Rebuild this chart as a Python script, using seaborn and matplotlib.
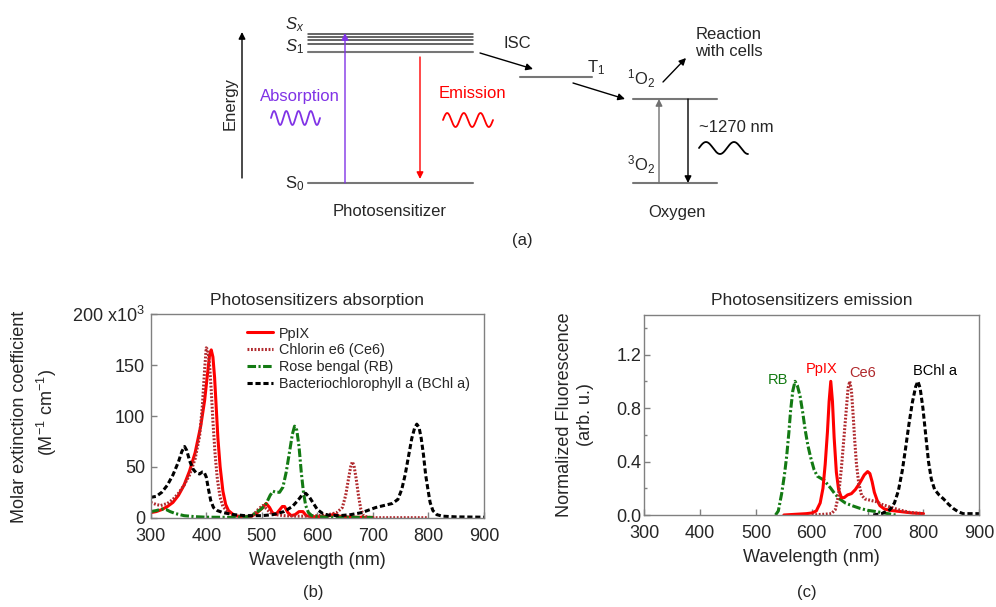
import numpy as np
import seaborn as sns
import matplotlib.pyplot as plt

# --- (b) absorption spectra: wavelength (nm), molar extinction (x10^3 M^-1 cm^-1)
ppix_abs_wl = [300, 310, 320, 330, 340, 350, 360, 370, 380, 390, 397, 402, 406, 409, 412, 415, 418, 421,
               425, 430, 435, 440, 450, 460, 470, 480, 490, 500, 508, 514, 519, 525, 531, 537, 541, 547,
               553, 560, 567, 574, 580, 590, 610, 622, 630, 636, 645, 660, 700]
ppix_abs = [5, 6, 8, 11, 15, 22, 32, 46, 64, 90, 115, 140, 160, 165, 158, 138, 108, 78,
            50, 26, 13, 7, 2.5, 1, 0.5, 1, 4, 9, 14, 10, 5, 3, 7, 11, 11, 5,
            2, 3, 6, 6, 2, 1, 1, 2, 3.5, 2, 1, 0.5, 0.3]

ce6_abs_wl = [300, 310, 318, 330, 340, 350, 360, 370, 380, 388, 393, 397, 400, 403, 406, 409, 412, 416,
              420, 425, 430, 440, 450, 470, 485, 495, 502, 508, 515, 525, 540, 560, 580, 600, 620, 635,
              645, 651, 656, 660, 663, 666, 670, 674, 678, 683, 690, 700, 750, 800]
ce6_abs = [15, 13, 12, 14, 18, 24, 32, 42, 58, 80, 110, 145, 167, 165, 150, 125, 95, 62,
           38, 20, 11, 5, 2, 1, 3, 9, 12, 9, 5, 3, 2, 1.5, 1.5, 2, 3, 5,
           10, 22, 38, 50, 55, 51, 38, 22, 9, 2, 0.5, 0, 0, 0]

rb_abs_wl = [300, 310, 320, 328, 335, 345, 360, 380, 400, 450, 470, 480, 490, 500, 508, 515, 520, 526,
             532, 538, 544, 550, 555, 559, 563, 567, 571, 575, 579, 584, 590, 600, 620, 700]
rb_abs = [6, 7, 8.5, 8, 6, 4, 2, 1, 0.5, 0.3, 0.5, 2, 5, 9, 14, 22, 26, 25,
          25, 30, 45, 65, 82, 90, 86, 70, 45, 25, 12, 5, 2, 1, 0.5, 0.2]

bchl_abs_wl = [300, 310, 320, 330, 340, 350, 356, 361, 365, 370, 376, 382, 388, 393, 396, 400, 404, 408,
               413, 420, 430, 450, 470, 500, 520, 540, 555, 565, 572, 579, 586, 593, 600, 610, 620, 640,
               660, 680, 695, 705, 720, 735, 745, 752, 758, 764, 770, 775, 779, 783, 787, 791, 795, 799,
               803, 808, 815, 825, 850, 900]
bchl_abs = [20, 21, 25, 32, 42, 55, 65, 70, 66, 56, 48, 44, 43, 45, 45, 40, 28, 17,
            10, 7, 5, 3, 2, 2, 3, 6, 11, 17, 22, 24, 20, 14, 8, 4, 2.5, 2,
            3, 5, 8, 10, 12, 14, 18, 28, 42, 60, 78, 88, 92, 89, 78, 62, 42, 28,
            15, 7, 3, 1.5, 0.8, 0.5]

# --- (c) normalized emission spectra
rb_em_wl = [535, 540, 546, 551, 555, 559, 562, 566, 570, 574, 579, 584, 588, 593, 598, 604, 610, 616,
            622, 628, 634, 641, 650, 660, 672, 686, 700, 716, 730, 750]
rb_em = [0, 0.03, 0.16, 0.3, 0.44, 0.62, 0.78, 0.93, 1.0, 0.97, 0.89, 0.76, 0.64, 0.52, 0.43, 0.34, 0.29, 0.275,
         0.26, 0.23, 0.2, 0.16, 0.12, 0.09, 0.07, 0.05, 0.035, 0.025, 0.015, 0]

ppix_em_wl = [550, 570, 590, 600, 608, 615, 620, 624, 628, 631, 634, 637, 640, 644, 648, 653, 658, 664,
              671, 678, 686, 694, 700, 704, 708, 712, 717, 722, 730, 740, 760, 780, 800]
ppix_em = [0, 0.005, 0.01, 0.015, 0.03, 0.09, 0.2, 0.38, 0.62, 0.85, 1.0, 0.85, 0.58, 0.32, 0.19, 0.13, 0.13, 0.15,
           0.16, 0.19, 0.24, 0.3, 0.325, 0.31, 0.25, 0.17, 0.11, 0.07, 0.045, 0.035, 0.025, 0.015, 0.01]

ce6_em_wl = [600, 620, 635, 642, 648, 653, 658, 662, 665, 668, 671, 674, 677, 680, 684, 689, 695, 705,
             715, 725, 740, 755, 775, 800]
ce6_em = [0, 0.005, 0.01, 0.04, 0.15, 0.35, 0.6, 0.8, 0.95, 1.0, 0.93, 0.75, 0.55, 0.38, 0.24, 0.15, 0.12, 0.11,
          0.1, 0.08, 0.06, 0.04, 0.02, 0.01]

bchl_em_wl = [710, 725, 740, 748, 755, 762, 768, 774, 780, 786, 790, 794, 799, 804, 809, 814, 820, 828,
              836, 845, 853, 862, 871, 885, 900]
bchl_em = [0, 0.01, 0.04, 0.09, 0.18, 0.33, 0.5, 0.68, 0.84, 0.96, 1.0, 0.95, 0.8, 0.6, 0.4, 0.27, 0.19, 0.15,
           0.12, 0.08, 0.05, 0.025, 0.01, 0.01, 0.01]

abs_names = ['PpIX', 'Chlorin e6 (Ce6)', 'Rose bengal (RB)', 'Bacteriochlorophyll a (BChl a)']

# styles
RED = '#ff0000'
CE6 = '#b0282c'
GREEN = '#137a13'
PURPLE = '#8033e6'
GREY = '#808080'
LW = 2.2
st_ppix = dict(color=RED, linestyle='-', linewidth=LW)
st_ce6 = dict(color=CE6, linestyle=(0, (0.6, 0.55)), linewidth=LW)
st_rb = dict(color=GREEN, linestyle=(0, (2.8, 0.8, 0.7, 0.8)), linewidth=LW)
st_bchl = dict(color='black', linestyle=(0, (1.7, 0.9)), linewidth=LW)

sns.set_style('white')
plt.rcParams['font.family'] = ['Liberation Sans', 'DejaVu Sans']
plt.rcParams['mathtext.fontset'] = 'custom'
plt.rcParams['mathtext.rm'] = 'Liberation Sans'
plt.rcParams['mathtext.it'] = 'Liberation Sans:italic'
plt.rcParams['mathtext.bf'] = 'Liberation Sans:bold'

fig = plt.figure(figsize=(9.96, 6.07), dpi=100)

# ---------------- (a) Jablonski-type diagram, pixel coordinates
dg = fig.add_axes([0, 0, 1, 1])
dg.set_xlim(0, 996)
dg.set_ylim(607, 0)
dg.axis('off')

def arrow(tail, tip, color='black', lw=1.0):
    dg.annotate('', xy=tip, xytext=tail,
                arrowprops=dict(arrowstyle='-|>', color=color, lw=lw, mutation_scale=10,
                                shrinkA=0, shrinkB=0))

def wave(x0, x1, yc, amp, periods, color):
    t = np.linspace(0, 1, 200)
    dg.plot(x0 + (x1 - x0) * t, yc - amp * np.sin(2 * np.pi * periods * t), color=color, lw=1.3)

for y in [33.5, 36.5, 40, 44]:
    dg.plot([308, 473], [y, y], color='#3c3c3c', lw=1.1)
dg.plot([308, 473], [52, 52], color='#777777', lw=1.5)
dg.plot([308, 473], [183, 183], color='#777777', lw=1.5)
dg.plot([520, 592], [77, 77], color='#777777', lw=1.5)
dg.plot([633, 717], [99, 99], color='#777777', lw=1.5)
dg.plot([633, 717], [183, 183], color='#777777', lw=1.5)

arrow((242, 178), (242, 32))
arrow((345, 183), (345, 33), color=PURPLE)
arrow((420, 57), (420, 179), color=RED)
arrow((480, 53), (533, 69))
arrow((573, 83), (625, 99))
arrow((663, 82), (686, 58))
arrow((659, 183), (659, 99), color='#707070')
arrow((688, 99), (688, 183))

wave(271, 320, 118, 7, 4, PURPLE)
wave(443, 493, 120, 7, 3, RED)
wave(699, 748, 148, 6, 1.75, 'black')

fs_a = 12
dg.text(230, 103, 'Energy', rotation=90, ha='center', va='center', fontsize=fs_a)
dg.text(304, 25, '$S_x$', ha='right', va='center', fontsize=fs_a)
dg.text(304, 47, '$S_1$', ha='right', va='center', fontsize=fs_a)
dg.text(304, 184, 'S$_0$', ha='right', va='center', fontsize=fs_a)
dg.text(300, 97, 'Absorption', color=PURPLE, ha='center', va='center', fontsize=fs_a)
dg.text(472, 94, 'Emission', color=RED, ha='center', va='center', fontsize=fs_a)
dg.text(517, 43, 'ISC', ha='center', va='center', fontsize=fs_a)
dg.text(587, 68, 'T$_1$', ha='left', va='center', fontsize=fs_a)
dg.text(641, 79, '$^1$O$_2$', ha='center', va='center', fontsize=fs_a)
dg.text(641, 165, '$^3$O$_2$', ha='center', va='center', fontsize=fs_a)
dg.text(729, 43, 'Reaction\nwith cells', ha='center', va='center', fontsize=fs_a, linespacing=1.15)
dg.text(736, 128, '~1270 nm', ha='center', va='center', fontsize=fs_a)
dg.text(390, 212, 'Photosensitizer', ha='center', va='center', fontsize=fs_a)
dg.text(677, 212, 'Oxygen', ha='center', va='center', fontsize=fs_a)
dg.text(522, 240, '(a)', ha='center', va='center', fontsize=fs_a)
dg.text(313, 592, '(b)', ha='center', va='center', fontsize=fs_a)
dg.text(807, 592, '(c)', ha='center', va='center', fontsize=fs_a)

# ---------------- (b) absorption
axb = fig.add_axes([150.7 / 996, 1 - 517.7 / 607, 333.3 / 996, 203.4 / 607])
sns.lineplot(x=ppix_abs_wl, y=ppix_abs, ax=axb, label=abs_names[0], estimator=None, **st_ppix)
sns.lineplot(x=ce6_abs_wl, y=ce6_abs, ax=axb, label=abs_names[1], estimator=None, **st_ce6)
sns.lineplot(x=rb_abs_wl, y=rb_abs, ax=axb, label=abs_names[2], estimator=None, **st_rb)
sns.lineplot(x=bchl_abs_wl, y=bchl_abs, ax=axb, label=abs_names[3], estimator=None, **st_bchl)
axb.set_xlim(300, 900)
axb.set_ylim(0, 200)
axb.set_xticks(range(300, 901, 100))
axb.set_yticks([0, 50, 100, 150, 200])
axb.set_yticklabels(['0', '50', '100', '150', '200 x10$^3$'])
axb.set_title('Photosensitizers absorption', fontsize=12.5, pad=7)
axb.set_xlabel('Wavelength (nm)', fontsize=13, labelpad=5)
axb.set_ylabel('')
axb.legend(loc='upper left', bbox_to_anchor=(0.288, 0.94), frameon=False, fontsize=10.4,
           borderaxespad=0, borderpad=0, handlelength=1.8, handletextpad=0.45, labelspacing=0.2)
fig.text(20 / 996, 1 - 417 / 607, 'Molar extinction coefficient', rotation=90,
         ha='center', va='center', fontsize=13)
fig.text(47 / 996, 1 - 413 / 607, '(M$^{-1}$ cm$^{-1}$)', rotation=90,
         ha='center', va='center', fontsize=13)

# ---------------- (c) emission
axc = fig.add_axes([644.3 / 996, 1 - 515 / 607, 335 / 996, 200.5 / 607])
sns.lineplot(x=rb_em_wl, y=rb_em, ax=axc, estimator=None, **st_rb)
sns.lineplot(x=ppix_em_wl, y=ppix_em, ax=axc, estimator=None, **st_ppix)
sns.lineplot(x=ce6_em_wl, y=ce6_em, ax=axc, estimator=None, **st_ce6)
sns.lineplot(x=bchl_em_wl, y=bchl_em, ax=axc, estimator=None, **st_bchl)
axc.set_xlim(300, 900)
axc.set_ylim(0, 1.5)
axc.set_xticks(range(300, 901, 100))
axc.set_yticks([0, 0.4, 0.8, 1.2])
axc.set_yticklabels(['0.0', '0.4', '0.8', '1.2'])
axc.set_yticks([0.2, 0.6, 1.0, 1.4], minor=True)
axc.set_title('Photosensitizers emission', fontsize=12.5, pad=7)
axc.set_xlabel('Wavelength (nm)', fontsize=13, labelpad=5)
axc.set_ylabel('')
axc.text(540, 1.01, 'RB', color=GREEN, ha='center', va='center', fontsize=10.5)
axc.text(618, 1.095, 'PpIX', color=RED, ha='center', va='center', fontsize=10.5)
axc.text(691, 1.065, 'Ce6', color=CE6, ha='center', va='center', fontsize=10.5)
axc.text(820, 1.08, 'BChl a', color='black', ha='center', va='center', fontsize=10.5)
fig.text(564 / 996, 1 - 415 / 607, 'Normalized Fluorescence', rotation=90,
         ha='center', va='center', fontsize=13)
fig.text(585 / 996, 1 - 415 / 607, '(arb. u.)', rotation=90,
         ha='center', va='center', fontsize=13)

for ax in (axb, axc):
    for sp in ax.spines.values():
        sp.set_visible(True)
        sp.set_color(GREY)
        sp.set_linewidth(1.0)
    ax.tick_params(which='major', direction='in', length=4, width=1, color=GREY,
                   labelsize=13, pad=4, bottom=True, left=True)
    ax.tick_params(which='minor', direction='in', length=2.5, width=1, color=GREY, left=True)
    ax.tick_params(axis='x', which='major', pad=7.5)
axc.tick_params(axis='y', which='major', pad=2)

fig.savefig('out.png', dpi=100)
